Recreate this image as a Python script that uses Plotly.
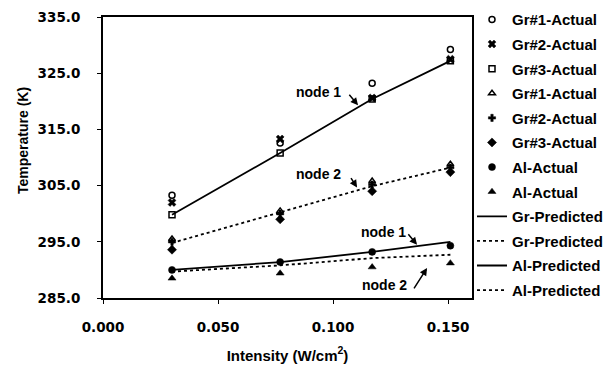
import plotly.graph_objects as go

intensity = [0.030, 0.077, 0.117, 0.151]

gr1_node1 = [303.3, 312.6, 323.2, 329.2]
gr2_node1 = [302.0, 313.3, 320.6, 327.5]
gr3_node1 = [299.8, 310.8, 320.4, 327.2]
gr1_node2 = [295.5, 300.5, 305.8, 308.8]
gr2_node2 = [295.0, 300.0, 305.2, 308.2]
gr3_node2 = [293.6, 299.0, 304.0, 307.4]
al_node1 = [290.0, 291.4, 293.2, 294.3]
al_node2 = [288.5, 289.4, 290.5, 291.2]
gr_pred_node1 = [299.8, 310.8, 320.4, 327.2]
gr_pred_node2 = [294.8, 300.2, 304.9, 308.2]
al_pred_node1 = [290.0, 291.4, 293.2, 295.0]
al_pred_node2 = [289.7, 290.8, 292.1, 292.7]

FONT = "Liberation Sans"
TICKFONT = "DejaVu Sans"
BLACK = "black"

fig = go.Figure()

markers = [
    ("Gr#1-Actual", gr1_node1, dict(symbol="circle-open", size=6, line=dict(width=1.5, color=BLACK))),
    ("Gr#2-Actual", gr2_node1, dict(symbol="x", size=7, line=dict(width=0.5, color=BLACK))),
    ("Gr#3-Actual", gr3_node1, dict(symbol="square-open", size=6, line=dict(width=1.5, color=BLACK))),
    ("Gr#1-Actual", gr1_node2, dict(symbol="triangle-up-open", size=6, line=dict(width=1.5, color=BLACK))),
    ("Gr#2-Actual", gr2_node2, dict(symbol="cross", size=6, line=dict(width=0.5, color=BLACK))),
    ("Gr#3-Actual", gr3_node2, dict(symbol="diamond", size=7, line=dict(width=0.5, color=BLACK))),
    ("Al-Actual", al_node1, dict(symbol="circle", size=7, line=dict(width=0.5, color=BLACK))),
    ("Al-Actual", al_node2, dict(symbol="triangle-up", size=7, line=dict(width=0.5, color=BLACK))),
]
i = 0
for name, ys, mk in markers:
    mk["color"] = BLACK
    fig.add_trace(go.Scatter(x=intensity, y=ys, mode="markers", name=name,
                             marker=mk, legendgroup=f"g{i}"))
    i += 1

lines = [
    ("Gr-Predicted", gr_pred_node1, "solid"),
    ("Gr-Predicted", gr_pred_node2, "dot"),
    ("Al-Predicted", al_pred_node1, "solid"),
    ("Al-Predicted", al_pred_node2, "dot"),
]
for name, ys, dash in lines:
    fig.add_trace(go.Scatter(x=intensity, y=ys, mode="lines", name=name,
                             line=dict(color=BLACK, width=1.8, dash=dash),
                             legendgroup=f"g{i}"))
    i += 1

def px2x(px):
    return (px - 103) / 2300.0

def px2y(py):
    return 335 - (py - 18) / 5.6

ann_font = dict(family=FONT, size=14, color=BLACK, weight="bold")
texts = [("node 1", 318, 93), ("node 2", 318.5, 174), ("node 1", 383, 232), ("node 2", 384, 285)]
for t, px, py in texts:
    fig.add_annotation(x=px2x(px), y=px2y(py), text=t, showarrow=False, font=ann_font)

arrows = [((348, 94), (358, 106)), ((350, 177), (357, 188)), ((407, 233), (417, 245)), ((413, 290), (427, 268))]
for (tx, ty), (hx, hy) in arrows:
    fig.add_annotation(x=px2x(hx), y=px2y(hy), ax=tx - hx, ay=ty - hy, text="",
                       showarrow=True, arrowhead=2, arrowsize=1, arrowwidth=1.5,
                       arrowcolor=BLACK)

# y-axis title (placed above centre, as in the original)
fig.add_annotation(xref="paper", yref="paper", x=-80 / 369, y=157 / 281,
                   text="Temperature (K)", textangle=-90, showarrow=False,
                   xanchor="center", yanchor="middle",
                   font=dict(family=FONT, size=14, color=BLACK, weight="bold"))

tick_font = dict(family=TICKFONT, size=13.5, color=BLACK, weight="bold")
title_font = dict(family=FONT, size=15, color=BLACK, weight="bold")

fig.update_xaxes(range=[0, 0.1604], tickvals=[0, 0.05, 0.1, 0.15], tickformat=".3f",
                 showline=True, linecolor=BLACK, linewidth=2, mirror=True,
                 ticks="outside", ticklen=4, tickcolor=BLACK, showgrid=False, zeroline=False,
                 tickfont=tick_font, ticklabelstandoff=12,
                 title=dict(text="Intensity (W/cm<sup>2</sup>)", font=title_font, standoff=16))
fig.update_yaxes(range=[285, 335], tickvals=[285, 295, 305, 315, 325, 335], tickformat=".1f",
                 showline=True, linecolor=BLACK, linewidth=2, mirror=True,
                 ticks="outside", ticklen=4, tickcolor=BLACK, showgrid=False, zeroline=False,
                 tickfont=tick_font, ticklabelstandoff=14)

fig.update_layout(
    width=616, height=366,
    margin=dict(l=95, r=152, t=9, b=76, autoexpand=False),
    paper_bgcolor="white", plot_bgcolor="white",
    font=dict(family=FONT, color=BLACK),
    legend=dict(x=1.0, xanchor="left", y=1.049, yanchor="top",
                font=dict(family=FONT, size=15, color=BLACK, weight="bold"),
                tracegroupgap=2.1, itemwidth=30, bgcolor="rgba(0,0,0,0)",
                maxheight=1),
)

fig.write_html("out.html")
